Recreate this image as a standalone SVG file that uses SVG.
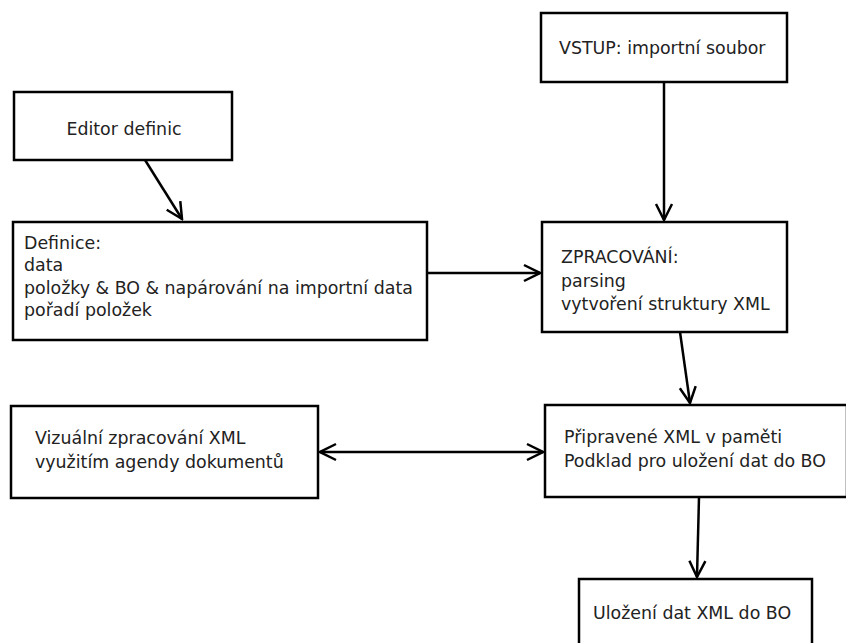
<svg xmlns="http://www.w3.org/2000/svg" width="846" height="643" viewBox="0 0 846 643">
<style>
.box{fill:#fff;stroke:#000;stroke-width:2.5}
.t{font-family:"DejaVu Sans",sans-serif;font-size:17.4px;fill:#222}
.c{fill:none;stroke:#000;stroke-width:2.5}
</style>
<defs>
<marker id="ah" viewBox="0 0 20 20" refX="18" refY="10" markerWidth="20" markerHeight="20" markerUnits="userSpaceOnUse" orient="auto-start-reverse">
<path d="M2,2 L18,10 L2,18" fill="none" stroke="#000" stroke-width="2.5"/>
</marker>
</defs>
<rect width="846" height="643" fill="#fff"/>
<g id="editor"><rect class="box" x="14" y="92" width="218" height="68"/><text class="t" x="124" y="135" text-anchor="middle">Editor definic</text></g>
<g id="definice"><rect class="box" x="13" y="222" width="414" height="118"/>
<text class="t" x="24" y="249">Definice:</text>
<text class="t" x="24" y="271">data</text>
<text class="t" x="24" y="294">položky &amp; BO &amp; napárování na importní data</text>
<text class="t" x="24" y="316">pořadí položek</text></g>
<g id="vstup"><rect class="box" x="541" y="13" width="246" height="69"/><text class="t" x="559" y="54">VSTUP: importní soubor</text></g>
<g id="zpracovani"><rect class="box" x="542" y="222" width="245" height="110"/>
<text class="t" x="561" y="263">ZPRACOVÁNÍ:</text>
<text class="t" x="561" y="287">parsing</text>
<text class="t" x="561" y="310">vytvoření struktury XML</text></g>
<g id="vizualni"><rect class="box" x="11" y="406" width="307" height="92"/>
<text class="t" x="35" y="444">Vizuální zpracování XML</text>
<text class="t" x="35" y="468">využitím agendy dokumentů</text></g>
<g id="pripravene"><rect class="box" x="545" y="405" width="302" height="92"/>
<text class="t" x="564" y="443">Připravené XML v paměti</text>
<text class="t" x="564" y="467">Podklad pro uložení dat do BO</text></g>
<g id="ulozeni"><rect class="box" x="579" y="579" width="233" height="70"/>
<text class="t" x="593" y="619">Uložení dat XML do BO</text></g>
<g id="connectors">
<line class="c" x1="145" y1="160" x2="182" y2="219" marker-end="url(#ah)"/>
<line class="c" x1="664" y1="82" x2="664" y2="220" marker-end="url(#ah)"/>
<line class="c" x1="427" y1="273" x2="540" y2="273" marker-end="url(#ah)"/>
<line class="c" x1="680" y1="332" x2="690" y2="403" marker-end="url(#ah)"/>
<line class="c" x1="320" y1="452" x2="543" y2="452" marker-start="url(#ah)" marker-end="url(#ah)"/>
<line class="c" x1="699" y1="497" x2="697" y2="577" marker-end="url(#ah)"/>
</g>
</svg>
